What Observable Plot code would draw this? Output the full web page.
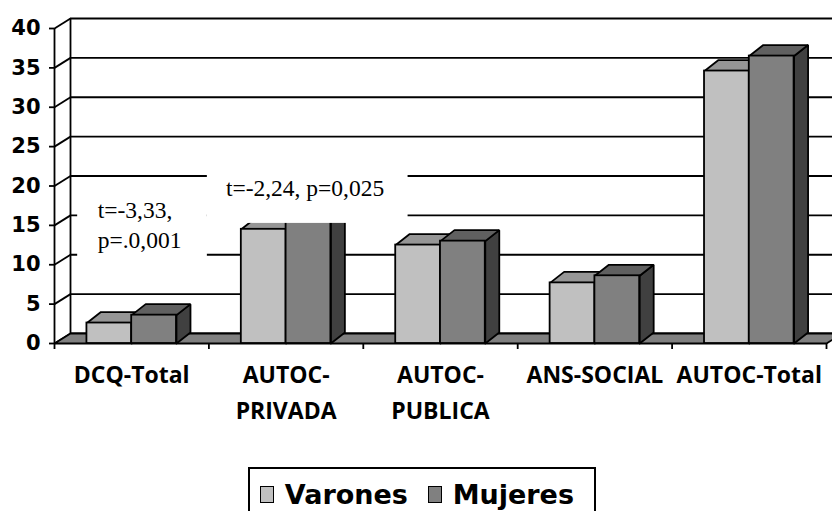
<!DOCTYPE html>
<html>
<head>
<meta charset="utf-8">
<script src="https://cdn.jsdelivr.net/npm/d3@7"></script>
<script src="https://cdn.jsdelivr.net/npm/@observablehq/plot@0.6"></script>
<style>
  html, body { margin: 0; padding: 0; background: #fff; overflow: hidden; }
  #wrap { position: relative; width: 832px; height: 511px; overflow: hidden; }
  #legend {
    position: absolute; left: 248px; top: 467px; width: 348px; height: 54px;
    box-sizing: border-box; border: 2px solid #000; background: #fff;
    display: flex; align-items: center; padding-left: 10px;
    font-family: "DejaVu Sans", sans-serif; font-weight: bold; font-size: 27px; color: #000;
  }
  #legend .sw { display: inline-block; width: 17px; height: 17px; box-sizing: border-box; border: 1.5px solid #000; margin-right: 11px; }
  #legend .lab { margin-right: 20px; }
</style>
</head>
<body>
<div id="wrap"></div>
<script>
// ---------- data ----------
const categories = ["DCQ-Total", "AUTOC-\nPRIVADA", "AUTOC-\nPUBLICA", "ANS-SOCIAL", "AUTOC-Total"];
const seriesNames = ["Varones", "Mujeres"];
const varones = [2.6, 14.5, 12.5, 7.7, 34.6];
const mujeres = [3.6, 16.0, 13.0, 8.6, 36.5];
const yTicks = [0, 5, 10, 15, 20, 25, 30, 35, 40];
const annotations = [
  {text: "t=-3,33,", cat: 0.28, value: 16.9},
  {text: "p=.0,001", cat: 0.28, value: 13.1},
  {text: "t=-2,24, p=0,025", cat: 1.11, value: 19.7}
];
const annotationBoxes = [
  {c1: 0.15, c2: 0.99, v1: 9.0, v2: 19.4},
  {c1: 0.99, c2: 2.29, v1: 15.25, v2: 23.2}
];

// ---------- layout / style ----------
const W = 832, H = 440, mL = 54, mR = 6, mT = 28, mB = 97;
const yMax = 40;
const pxX = (W - mL - mR) / categories.length;   // px per category
const pxY = (H - mT - mB) / yMax;                 // px per unit
const wallX = 16 / pxX, wallY = 10 / pxY;         // wall depth (data units)
const barX = 14 / pxX, barY = 11 / pxY;           // bar depth (data units)
const slots = {Varones: [0.21, 0.5], Mujeres: [0.5, 0.79]};
const colors = {
  Varones: {front: "#c0c0c0", top: "#969696", side: "#808080"},
  Mujeres: {front: "#808080", top: "#606060", side: "#404040"}
};
const SW = 1.8;

const values = {Varones: varones, Mujeres: mujeres};
const rows = [];
seriesNames.forEach(s => categories.forEach((c, i) => {
  rows.push({series: s, i, x1: i + slots[s][0], x2: i + slots[s][1], v: values[s][i]});
}));

function topPoly(r) {
  const id = r.series + r.i + "top";
  return [[r.x1, r.v], [r.x2, r.v], [r.x2 + barX, r.v + barY], [r.x1 + barX, r.v + barY], [r.x1, r.v]]
    .map(([x, y]) => ({id, x, y}));
}
function sidePoly(r) {
  const id = r.series + r.i + "side";
  return [[r.x2, 0], [r.x2, r.v], [r.x2 + barX, r.v + barY], [r.x2 + barX, barY], [r.x2, 0]]
    .map(([x, y]) => ({id, x, y}));
}
const nCat = categories.length;
const floor = [[0, 0], [nCat, 0], [nCat + wallX, wallY], [wallX, wallY], [0, 0]].map(([x, y]) => ({id: "floor", x, y}));

const barMarks = [];
seriesNames.forEach(s => {
  const rs = rows.filter(r => r.series === s);
  barMarks.push(
    Plot.line(rs.flatMap(sidePoly), {x: "x", y: "y", z: "id", fill: colors[s].side, stroke: "black", strokeWidth: SW, strokeLinejoin: "miter"}),
    Plot.line(rs.flatMap(topPoly), {x: "x", y: "y", z: "id", fill: colors[s].top, stroke: "black", strokeWidth: SW, strokeLinejoin: "miter"}),
    Plot.rect(rs, {x1: "x1", x2: "x2", y1: 0, y2: "v", fill: colors[s].front, stroke: "black", strokeWidth: SW})
  );
});

const chart = Plot.plot({
  width: W, height: H,
  marginLeft: mL, marginRight: mR, marginTop: mT, marginBottom: mB,
  style: {background: "white", color: "black"},
  x: {domain: [0, nCat]},
  y: {domain: [0, yMax]},
  marks: [
    // back wall gridlines
    Plot.ruleY(yTicks, {y: d => d + wallY, x1: wallX, x2: nCat + wallX + 1, stroke: "black", strokeWidth: SW}),
    // left wall diagonals
    Plot.link(yTicks, {x1: 0, y1: d => d, x2: wallX, y2: d => d + wallY, stroke: "black", strokeWidth: SW}),
    // back wall left edge and front y axis line
    Plot.ruleX([wallX], {y1: wallY, y2: yMax + wallY, stroke: "black", strokeWidth: SW}),
    Plot.ruleX([0], {y1: 0, y2: yMax, stroke: "black", strokeWidth: SW}),
    // floor
    Plot.line(floor, {x: "x", y: "y", z: "id", fill: "#808080", stroke: "black", strokeWidth: SW, strokeLinejoin: "miter"}),
    // category ticks
    Plot.ruleX(d3.range(nCat + 1), {y1: 0, y2: -6 / pxY, stroke: "black", strokeWidth: SW}),
    ...barMarks,
    // annotation boxes & text
    Plot.rect(annotationBoxes, {x1: "c1", x2: "c2", y1: "v1", y2: "v2", fill: "white"}),
    Plot.text(annotations, {x: "cat", y: "value", text: "text", textAnchor: "start", fontFamily: "Liberation Serif", fontSize: 23.5, fill: "black"}),
    // axes
    Plot.axisY(yTicks, {tickSize: 5, tickPadding: 9, strokeWidth: SW, fontSize: 21, fontWeight: "bold", fontFamily: "DejaVu Sans", fill: "black", label: null}),
    Plot.axisX(d3.range(nCat).map(i => i + 0.5), {tickSize: 0, tickPadding: 14, tickFormat: (d, i) => categories[i], fontSize: 23, fontWeight: "bold", fontFamily: "Open Sans", lineHeight: 1.57, fill: "black", label: null})
  ]
});

const wrap = document.getElementById("wrap");
wrap.appendChild(chart);

const legend = document.createElement("div");
legend.id = "legend";
seriesNames.forEach(s => {
  const sw = document.createElement("span");
  sw.className = "sw";
  sw.style.background = colors[s].front;
  const lab = document.createElement("span");
  lab.className = "lab";
  lab.textContent = s;
  legend.appendChild(sw);
  legend.appendChild(lab);
});
wrap.appendChild(legend);
</script>
</body>
</html>
